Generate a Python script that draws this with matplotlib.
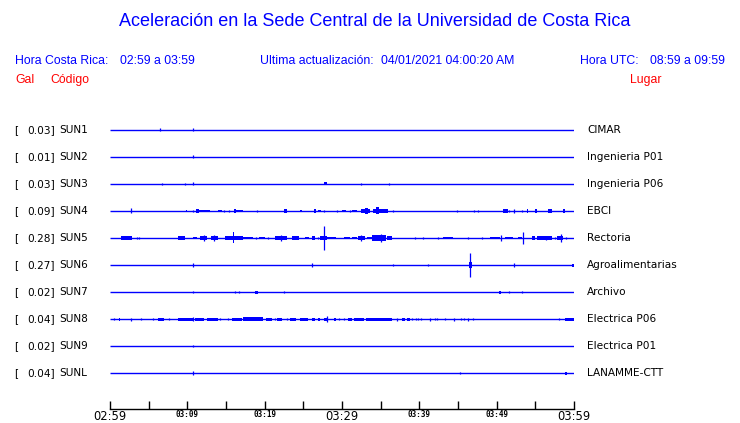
import matplotlib
matplotlib.use("Agg")
import matplotlib.pyplot as plt

# station table
stations = ["SUN1", "SUN2", "SUN3", "SUN4", "SUN5", "SUN6", "SUN7", "SUN8", "SUN9", "SUNL"]
peaks = [0.03, 0.01, 0.03, 0.09, 0.28, 0.27, 0.02, 0.04, 0.02, 0.04]
places = ["CIMAR", "Ingenieria P01", "Ingenieria P06", "EBCI", "Rectoria",
          "Agroalimentarias", "Archivo", "Electrica P06", "Electrica P01", "LANAMME-CTT"]

# bursts per trace: (start min, end min, half amplitude in px)
sun1 = [(6.5, 6.5, 1.5), (10.77, 10.77, 1.5)]
sun2 = [(10.77, 10.77, 1.5)]
sun3 = [(6.68, 6.68, 1.2), (9.74, 9.74, 1.0), (10.77, 10.77, 1.5), (27.7, 28.0, 1.5),
        (32.4, 32.4, 1.2), (36.1, 36.1, 1.2)]
sun4 = [(2.76, 2.76, 2.5), (9.85, 10.0, 1.0), (10.77, 10.77, 0.7), (11.08, 11.5, 2.0),
        (11.5, 12.9, 1.2), (14.01, 14.44, 1.3), (14.78, 14.78, 1.0), (15.39, 15.39, 1.3),
        (16.08, 16.25, 2.3), (16.25, 17.16, 1.3), (19.05, 19.05, 1.0), (22.5, 22.85, 2.0),
        (24.57, 24.78, 1.3), (26.42, 26.64, 2.3), (26.94, 27.24, 1.3), (27.67, 27.67, 0.8),
        (29.4, 29.4, 0.8), (30.04, 30.47, 1.3), (31.03, 31.03, 1.0), (31.25, 31.9, 1.0),
        (32.46, 33.62, 2.0), (33.0, 33.4, 3.0), (34.05, 35.9, 2.0), (34.44, 34.78, 3.5),
        (36.64, 36.64, 1.0), (44.92, 44.92, 1.0), (47.11, 47.11, 0.8), (47.55, 47.55, 0.8),
        (50.86, 51.43, 2.0), (51.6, 51.6, 1.0), (52.29, 52.29, 1.7), (53.23, 53.23, 1.0),
        (53.88, 54.1, 2.3), (54.96, 55.26, 2.0), (56.68, 57.11, 1.7), (58.62, 58.84, 2.3)]
sun5 = [(1.42, 2.8, 1.7), (2.2, 2.5, 2.3), (3.45, 3.45, 1.0), (3.79, 3.79, 1.0),
        (8.84, 9.7, 1.7), (9.2, 9.35, 2.3), (10.77, 11.2, 1.3), (11.64, 12.5, 2.0),
        (12.1, 12.2, 3.3), (13.06, 14.01, 1.7), (13.5, 13.6, 2.7), (14.87, 17.24, 1.8),
        (15.9, 16.05, 5.5), (17.24, 18.54, 1.3), (18.84, 18.84, 1.0), (19.27, 20.04, 1.3),
        (20.39, 20.39, 1.0), (21.34, 22.85, 1.8), (22.15, 22.25, 3.3), (23.58, 24.48, 1.7),
        (25.22, 25.73, 1.3), (26.08, 26.51, 2.3), (26.94, 26.94, 1.0), (27.16, 28.02, 1.7),
        (27.7, 27.82, 12.3), (28.02, 29.23, 1.3), (30.3, 31.03, 1.3), (31.25, 31.9, 1.3),
        (32.11, 32.98, 2.3), (32.5, 32.6, 3.3), (33.19, 33.84, 1.3), (33.84, 35.65, 2.7),
        (34.2, 34.5, 3.3), (35.0, 35.1, 3.7), (35.78, 36.42, 2.0), (39.44, 39.44, 1.0),
        (40.52, 40.52, 1.0), (42.46, 42.46, 0.7), (43.1, 44.4, 1.0), (46.25, 46.25, 0.7),
        (48.06, 48.06, 1.0), (49.14, 50.43, 1.3), (50.5, 50.62, 3.0), (51.08, 52.16, 1.3),
        (52.8, 53.23, 1.3), (53.4, 53.55, 6.0), (54.53, 54.96, 1.7), (55.17, 57.11, 1.7),
        (56.4, 56.55, 2.3), (57.55, 57.55, 1.0), (57.76, 58.62, 2.0), (58.35, 58.45, 3.7),
        (58.92, 58.92, 1.0)]
sun6 = [(10.77, 10.77, 2.0), (26.08, 26.08, 1.7), (36.6, 36.6, 1.0), (41.17, 41.17, 1.3),
        (46.4, 46.8, 3.0), (46.55, 46.65, 12.0), (52.3, 52.3, 1.7), (59.8, 60.0, 1.5)]
sun7 = [(10.77, 10.77, 1.3), (16.2, 16.2, 1.3), (16.7, 16.7, 0.8), (18.8, 19.1, 1.5),
        (22.5, 22.5, 1.2), (50.3, 50.5, 1.5), (51.55, 51.55, 1.3), (53.3, 53.3, 0.8)]
sun8 = [(0.56, 0.56, 0.8), (1.2, 1.35, 1.5), (2.7, 2.85, 1.5), (4.05, 4.05, 1.2),
        (5.52, 5.52, 0.8), (6.25, 7.03, 1.5), (7.63, 7.63, 1.2), (8.75, 10.78, 1.5),
        (10.77, 10.77, 2.3), (10.99, 12.16, 1.5), (12.5, 13.92, 1.5), (14.27, 14.27, 1.2),
        (15.22, 15.22, 0.8), (15.73, 17.03, 1.5), (17.24, 19.83, 1.7), (20.17, 20.9, 1.5),
        (21.34, 21.34, 1.2), (21.64, 22.2, 1.5), (22.85, 22.85, 1.2), (23.28, 24.01, 1.5),
        (24.57, 25.65, 1.5), (26.16, 26.51, 1.5), (26.85, 27.16, 1.5), (27.63, 28.06, 1.5),
        (28.0, 28.06, 2.7), (28.92, 29.18, 1.5), (29.66, 29.66, 1.2), (30.22, 30.22, 1.2),
        (30.82, 31.25, 1.5), (31.6, 32.8, 1.5), (33.06, 36.51, 1.5), (37.11, 37.11, 1.5),
        (37.8, 38.15, 1.5), (38.41, 38.75, 1.5), (39.1, 39.1, 1.2), (39.53, 39.53, 1.2),
        (39.79, 39.79, 1.2), (40.22, 40.22, 1.2), (41.38, 41.38, 1.5), (42.03, 42.03, 0.8),
        (42.29, 42.29, 0.8), (43.36, 43.36, 1.2), (44.48, 44.48, 1.5), (45.39, 45.39, 0.8),
        (45.78, 45.78, 1.2), (46.29, 46.29, 1.5), (46.94, 46.94, 1.2), (58.1, 58.1, 1.0),
        (58.88, 60.0, 1.5)]
sun9 = [(10.77, 10.77, 1.3)]
sunl = [(10.77, 10.77, 2.3), (45.2, 45.35, 1.2), (58.8, 59.1, 1.5)]
events = [sun1, sun2, sun3, sun4, sun5, sun6, sun7, sun8, sun9, sunl]

tick_minutes = list(range(0, 61, 5))
tick_labels = ["02:59", "", "03:09", "", "03:19", "", "03:29", "", "03:39", "", "03:49", "", "03:59"]
big_labels = ["02:59", "03:29", "03:59"]

W, H = 740, 423
BLUE = "#0000ff"
RED = "#ff0000"
ROW = 27.0  # px between traces

fig = plt.figure(figsize=(W / 100, H / 100), dpi=100)


def px(x, y):
    return x / W, 1 - y / H


# axes: x 110..574 px, y 110..409 px, first trace at 130 px
ax = fig.add_axes([110 / W, (H - 409) / H, 464 / W, 299 / H])
ax.set_xlim(0, 60)
ax.set_ylim((409 - 130) / ROW, -20 / ROW)

for i, ev in enumerate(events):
    ax.hlines(i, 0, 60, color=BLUE, lw=1.0)
    for t0, t1, a in ev:
        h = a / ROW
        if t1 - t0 < 0.15:
            ax.vlines(t0, i - h, i + h, color=BLUE, lw=0.9)
        else:
            ax.bar(t0, 2 * h, width=t1 - t0, bottom=i - h, align="edge",
                   color=BLUE, linewidth=0)

for s in ["top", "left", "right"]:
    ax.spines[s].set_visible(False)
ax.spines["bottom"].set_color("black")
ax.spines["bottom"].set_linewidth(1.0)
ax.set_yticks([])
ax.set_xticks(tick_minutes)
ax.set_xticklabels(tick_labels)
ax.tick_params(axis="x", direction="in", length=6, width=1.0, pad=0.5)
for lab in ax.get_xticklabels():
    if lab.get_text() in big_labels:
        lab.set_fontsize(8.3)
        lab.set_family("DejaVu Sans")
    else:
        lab.set_fontsize(5.5)
        lab.set_family("DejaVu Sans Mono")
        lab.set_fontweight("bold")

# side labels
for i in range(len(stations)):
    y = 130 + i * ROW
    fig.text(*px(14, y), "[", fontsize=7.6, va="center", ha="left")
    fig.text(*px(27, y), f"{peaks[i]:.2f}]", fontsize=7.6, va="center", ha="left")
    fig.text(*px(59, y), stations[i], fontsize=7.6, va="center", ha="left")
    fig.text(*px(587, y), places[i], fontsize=7.6, va="center", ha="left")

# header
hfont = "Liberation Sans"
fig.text(*px(375, 22), "Aceleración en la Sede Central de la Universidad de Costa Rica",
         fontsize=13.0, color=BLUE, ha="center", va="center", family=hfont)
fig.text(*px(15, 61), "Hora Costa Rica:", fontsize=8.8, color=BLUE, va="center", family=hfont)
fig.text(*px(120, 61), "02:59 a 03:59", fontsize=8.8, color=BLUE, va="center", family=hfont)
fig.text(*px(260, 61), "Ultima actualización:", fontsize=8.8, color=BLUE, va="center", family=hfont)
fig.text(*px(381, 61), "04/01/2021 04:00:20 AM", fontsize=8.8, color=BLUE, va="center", family=hfont)
fig.text(*px(580, 61), "Hora UTC:", fontsize=8.8, color=BLUE, va="center", family=hfont)
fig.text(*px(650, 61), "08:59 a 09:59", fontsize=8.8, color=BLUE, va="center", family=hfont)
fig.text(*px(15, 80), "Gal", fontsize=8.8, color=RED, va="center", family=hfont)
fig.text(*px(50, 80), "Código", fontsize=8.8, color=RED, va="center", family=hfont)
fig.text(*px(630, 80), "Lugar", fontsize=8.8, color=RED, va="center", family=hfont)

fig.savefig("out.png", dpi=100)
